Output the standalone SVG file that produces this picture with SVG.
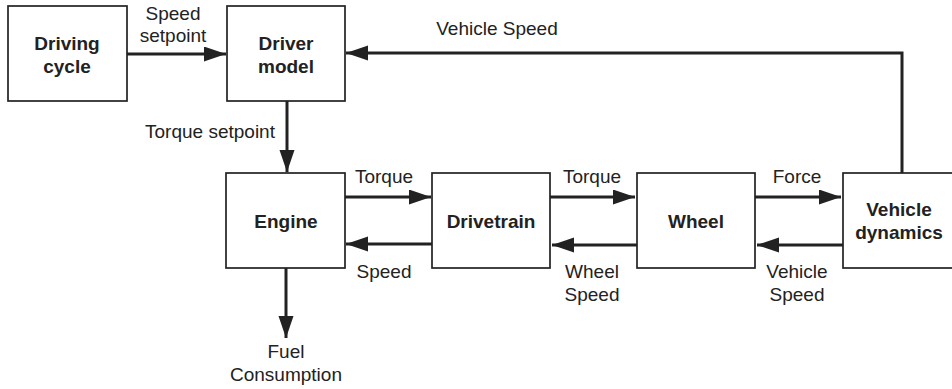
<svg xmlns="http://www.w3.org/2000/svg" width="952" height="389" viewBox="0 0 952 389">
<style>
.box{fill:#fff;stroke:#222;stroke-width:1.7}
.lbl{font-family:"Liberation Sans",Arial,sans-serif;font-size:19px;fill:#222;text-anchor:middle}
.nm{font-family:"Liberation Sans",Arial,sans-serif;font-size:19px;font-weight:bold;fill:#222;text-anchor:middle}
.ln{fill:none;stroke:#222;stroke-width:3}
</style>
<defs>
<marker id="ah" markerUnits="userSpaceOnUse" markerWidth="24" markerHeight="16" refX="22" refY="7.5" orient="auto">
<path d="M0,0 L22,7.5 L0,15 z" fill="#222"/>
</marker>
</defs>
<rect width="952" height="389" fill="#fff"/>
<g id="connectors">
<line class="ln" x1="127" y1="54" x2="226" y2="54" marker-end="url(#ah)"/>
<line class="ln" x1="287" y1="101" x2="287" y2="172" marker-end="url(#ah)"/>
<polyline class="ln" points="902,173 902,53 346,53" marker-end="url(#ah)"/>
<line class="ln" x1="345" y1="197" x2="431" y2="197" marker-end="url(#ah)"/>
<line class="ln" x1="432" y1="244" x2="346" y2="244" marker-end="url(#ah)"/>
<line class="ln" x1="550" y1="197" x2="635" y2="197" marker-end="url(#ah)"/>
<line class="ln" x1="637" y1="245" x2="552" y2="245" marker-end="url(#ah)"/>
<line class="ln" x1="755" y1="197" x2="841" y2="197" marker-end="url(#ah)"/>
<line class="ln" x1="843" y1="245" x2="757" y2="245" marker-end="url(#ah)"/>
<line class="ln" x1="286" y1="268" x2="286" y2="338" marker-end="url(#ah)"/>
<text class="lbl" x="173" y="20">Speed</text>
<text class="lbl" x="173" y="42">setpoint</text>
<text class="lbl" x="210" y="138">Torque setpoint</text>
<text class="lbl" x="497" y="35">Vehicle Speed</text>
<text class="lbl" x="384" y="183">Torque</text>
<text class="lbl" x="384" y="278">Speed</text>
<text class="lbl" x="592" y="183">Torque</text>
<text class="lbl" x="592" y="278">Wheel</text>
<text class="lbl" x="592" y="301">Speed</text>
<text class="lbl" x="797" y="183">Force</text>
<text class="lbl" x="797" y="278">Vehicle</text>
<text class="lbl" x="797" y="301">Speed</text>
<text class="lbl" x="286" y="358">Fuel</text>
<text class="lbl" x="286" y="381">Consumption</text>
</g>
<g id="driving-cycle">
<rect class="box" x="8" y="6" width="119" height="95"/>
<text class="nm" x="67" y="50">Driving</text>
<text class="nm" x="67" y="73">cycle</text>
</g>
<g id="driver-model">
<rect class="box" x="227" y="6" width="118" height="95"/>
<text class="nm" x="286" y="50">Driver</text>
<text class="nm" x="286" y="73">model</text>
</g>
<g id="engine">
<rect class="box" x="226" y="173" width="119" height="95"/>
<text class="nm" x="286" y="228">Engine</text>
</g>
<g id="drivetrain">
<rect class="box" x="432" y="173" width="118" height="95"/>
<text class="nm" x="491" y="228">Drivetrain</text>
</g>
<g id="wheel">
<rect class="box" x="637" y="173" width="118" height="95"/>
<text class="nm" x="696" y="228">Wheel</text>
</g>
<g id="vehicle-dynamics">
<rect class="box" x="843" y="173" width="118" height="95"/>
<text class="nm" x="899" y="216">Vehicle</text>
<text class="nm" x="899" y="239">dynamics</text>
</g>
</svg>
